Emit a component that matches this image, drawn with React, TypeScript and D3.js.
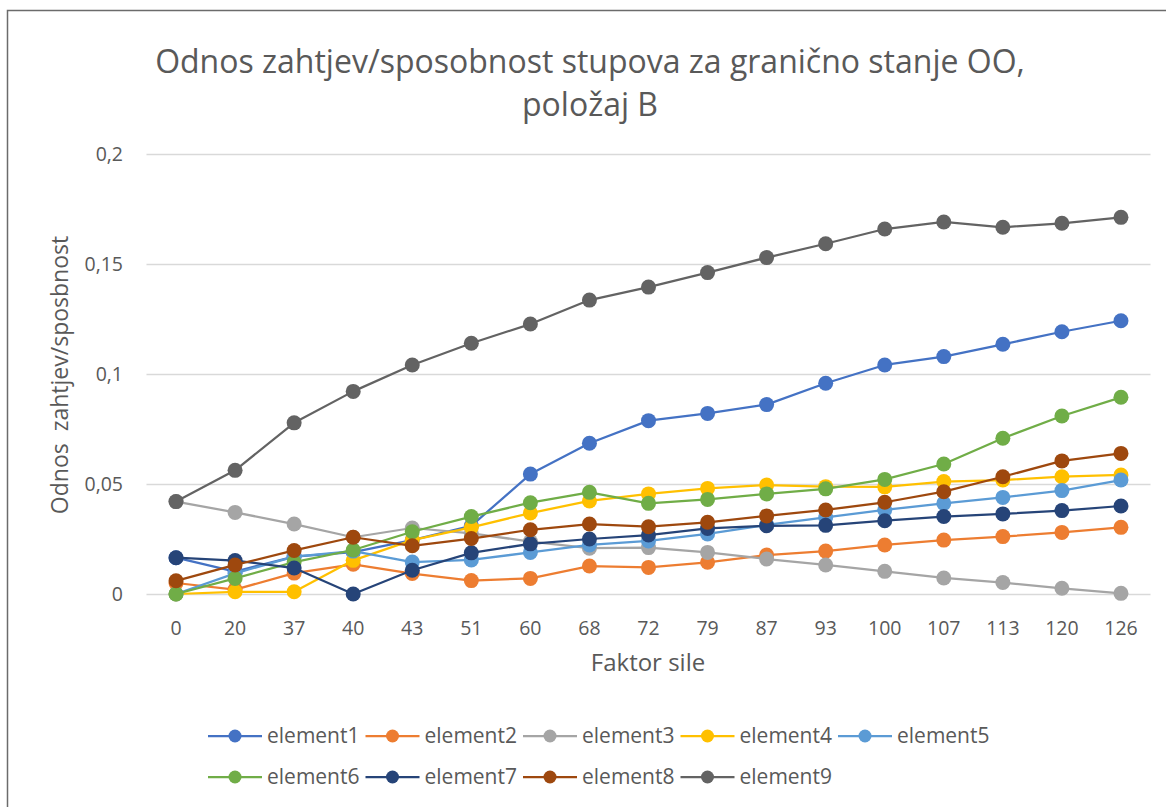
import React from "react";
import * as d3 from "d3";

const categories = ["0", "20", "37", "40", "43", "51", "60", "68", "72", "79", "87", "93", "100", "107", "113", "120", "126"];

const element1 = [0.0165, 0.0102, 0.017, 0.019, 0.0245, 0.031, 0.0545, 0.0685, 0.0788, 0.0821, 0.0861, 0.0958, 0.1041, 0.1079, 0.1135, 0.1192, 0.1242];
const element2 = [0.005, 0.002, 0.0095, 0.0135, 0.0093, 0.0061, 0.0071, 0.0127, 0.0121, 0.0144, 0.0177, 0.0195, 0.0223, 0.0245, 0.0261, 0.028, 0.0303];
const element3 = [0.042, 0.0371, 0.0318, 0.0258, 0.03, 0.0276, 0.0238, 0.0208, 0.0211, 0.0189, 0.0159, 0.0132, 0.0103, 0.0073, 0.0052, 0.0026, 0.0003];
const element4 = [0, 0.001, 0.001, 0.0153, 0.0245, 0.0303, 0.0368, 0.0423, 0.0455, 0.048, 0.0495, 0.0488, 0.0487, 0.0511, 0.0518, 0.0533, 0.0541];
const element5 = [0, 0.0094, 0.017, 0.0195, 0.0145, 0.0155, 0.0189, 0.0223, 0.0241, 0.0273, 0.0314, 0.0348, 0.0382, 0.0412, 0.0439, 0.047, 0.0518];
const element6 = [0, 0.0071, 0.0145, 0.02, 0.0283, 0.0352, 0.0415, 0.0462, 0.0412, 0.043, 0.0455, 0.0478, 0.0521, 0.0591, 0.0708, 0.0809, 0.0894];
const element7 = [0.0165, 0.0152, 0.0118, 0, 0.0108, 0.0187, 0.0228, 0.025, 0.0268, 0.0298, 0.031, 0.0312, 0.0333, 0.0352, 0.0364, 0.0379, 0.04];
const element8 = [0.006, 0.0132, 0.0198, 0.0258, 0.0219, 0.0252, 0.0292, 0.0318, 0.0306, 0.0326, 0.0355, 0.0382, 0.0417, 0.0465, 0.0533, 0.0605, 0.0639];
const element9 = [0.042, 0.0562, 0.0778, 0.0921, 0.1041, 0.114, 0.1227, 0.1336, 0.1395, 0.1461, 0.1529, 0.1592, 0.1659, 0.1691, 0.1667, 0.1685, 0.1712];

const seriesNames = ["element1", "element2", "element3", "element4", "element5", "element6", "element7", "element8", "element9"];
const seriesValues = [element1, element2, element3, element4, element5, element6, element7, element8, element9];
const seriesColors = ["#4472C4", "#ED7D31", "#A5A5A5", "#FFC000", "#5B9BD5", "#70AD47", "#264478", "#9E480E", "#636363"];

const yTicks = [0, 0.05, 0.1, 0.15, 0.2];

const FONT = "'Open Sans', 'DejaVu Sans', sans-serif";
const TEXT = "#595959";

export default function App() {
  const W = 1166;
  const H = 807;
  const x = d3.scaleBand<string>().domain(categories).range([146.5, 1150.5]).padding(0);
  const y = d3.scaleLinear().domain([0, 0.2]).range([594, 154]);
  const cx = (c: string) => (x(c) as number) + x.bandwidth() / 2;
  const line = d3
    .line<number>()
    .x((_, i) => cx(categories[i]))
    .y((d) => y(d));
  const fmt = (v: number) => String(v).replace(".", ",");

  const legendX = [208, 365.5, 523, 680.5, 838];
  const legendY = [736, 777];

  return (
    <svg
      width={W}
      height={H}
      style={{ position: "absolute", left: 0, top: 0, background: "#fff" }}
      fontFamily={FONT}
    >
      <rect x={0} y={0} width={W} height={H} fill="#fff" />
      <rect x={7.5} y={10.5} width={W + 20} height={H + 20} fill="none" stroke="#6b6b6b" strokeWidth={1.5} />

      <text x={590} y={62} dy="0.35em" textAnchor="middle" fontSize={32} fill={TEXT}>
        Odnos zahtjev/sposobnost stupova za granično stanje OO,
      </text>
      <text x={590} y={105} dy="0.35em" textAnchor="middle" fontSize={32} fill={TEXT}>
        položaj B
      </text>

      {yTicks.map((t) => (
        <g key={t}>
          <line x1={146.5} x2={1150.5} y1={Math.round(y(t)) + 0.5} y2={Math.round(y(t)) + 0.5} stroke="#d9d9d9" strokeWidth={1.3} />
          <text x={123} y={y(t)} dy="0.35em" textAnchor="end" fontSize={19.5} fill={TEXT}>
            {fmt(t)}
          </text>
        </g>
      ))}

      {categories.map((c) => (
        <text key={c} x={cx(c)} y={628} dy="0.35em" textAnchor="middle" fontSize={19.5} fill={TEXT}>
          {c}
        </text>
      ))}

      <text x={648} y={663} dy="0.35em" textAnchor="middle" fontSize={24} fill={TEXT}>
        Faktor sile
      </text>
      <text
        transform={`translate(60,375) rotate(-90)`}
        dy="0.35em"
        textAnchor="middle"
        fontSize={23}
        fill={TEXT}
        style={{ whiteSpace: "pre" }}
      >
        {"Odnos  zahtjev/sposbnost"}
      </text>

      {seriesValues.map((vals, si) => (
        <g key={seriesNames[si]}>
          <path d={line(vals) || ""} fill="none" stroke={seriesColors[si]} strokeWidth={2.25} strokeLinejoin="round" />
          {vals.map((v, i) => (
            <circle key={i} cx={cx(categories[i])} cy={y(v)} r={7.5} fill={seriesColors[si]} />
          ))}
        </g>
      ))}

      {seriesNames.map((n, i) => {
        const lx = legendX[i % 5];
        const ly = legendY[Math.floor(i / 5)];
        return (
          <g key={n}>
            <line x1={lx} x2={lx + 54} y1={ly} y2={ly} stroke={seriesColors[i]} strokeWidth={2.25} />
            <circle cx={lx + 27} cy={ly} r={6.5} fill={seriesColors[i]} />
            <text x={lx + 59} y={ly} dy="0.35em" fontSize={21} fill={TEXT}>
              {n}
            </text>
          </g>
        );
      })}
    </svg>
  );
}
